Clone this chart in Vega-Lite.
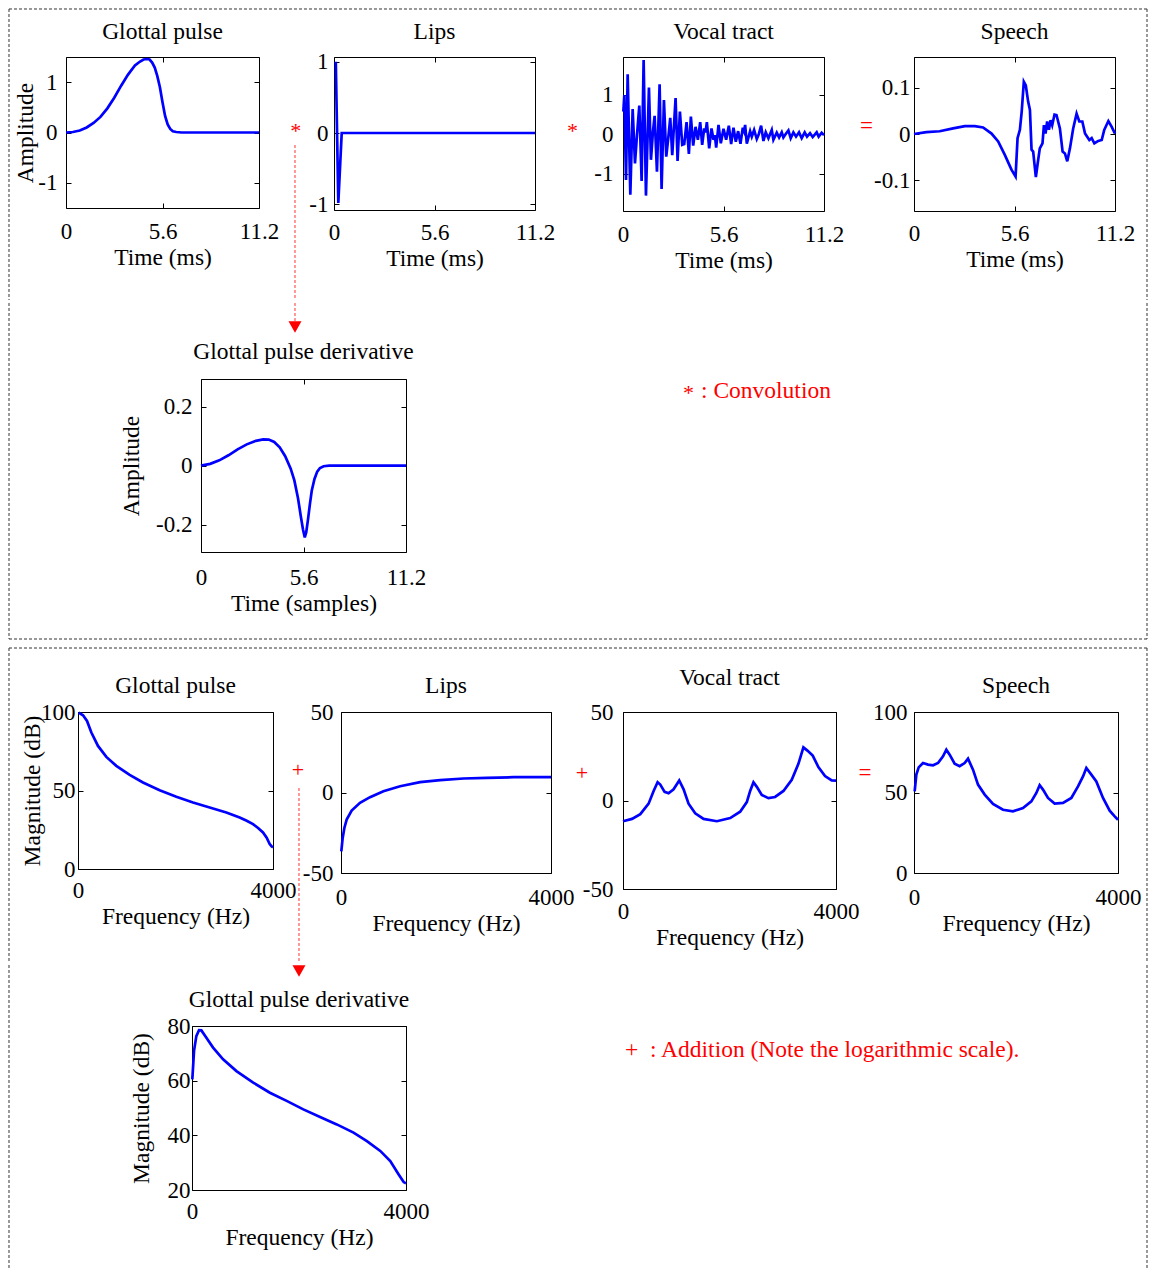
{
"$schema": "https://vega.github.io/schema/vega-lite/v6.json",
"background": "white",
"padding": {"left": 7, "top": 7, "right": 0, "bottom": 0},
"config": {
  "view": {"stroke": "black", "strokeWidth": 1},
  "axis": {"labelFont": "Liberation Serif", "labelFontSize": 23, "labelColor": "black", "titleFont": "Liberation Serif", "titleFontSize": 23.5, "titleFontWeight": "normal", "titleColor": "black", "domain": false, "grid": false, "ticks": true, "tickColor": "black", "tickSize": -5, "tickWidth": 1, "labelFlush": false, "labelOverlap": false, "titlePadding": 2},
  "line": {"color": "#0000ff", "strokeWidth": 2.7},
  "concat": {"spacing": 0}
},
"datasets": {
  "gp_t": [{"x":0,"y":0},{"x":0.4,"y":0.01},{"x":0.8,"y":0.04},{"x":1.2,"y":0.1},{"x":1.6,"y":0.19},{"x":2.0,"y":0.31},{"x":2.4,"y":0.48},{"x":2.8,"y":0.69},{"x":3.2,"y":0.93},{"x":3.6,"y":1.15},{"x":4.0,"y":1.33},{"x":4.3,"y":1.41},{"x":4.5,"y":1.45},{"x":4.7,"y":1.46},{"x":4.85,"y":1.45},{"x":5.0,"y":1.39},{"x":5.15,"y":1.29},{"x":5.3,"y":1.12},{"x":5.45,"y":0.9},{"x":5.6,"y":0.6},{"x":5.75,"y":0.33},{"x":5.9,"y":0.16},{"x":6.05,"y":0.07},{"x":6.2,"y":0.025},{"x":6.4,"y":0.01},{"x":6.7,"y":0},{"x":11.2,"y":0}],
  "lips_t": [{"x":0.1,"y":1},{"x":0.24,"y":-0.98},{"x":0.43,"y":0},{"x":11.2,"y":0}],
  "vt_t": [{"x":0.019,"y":0.58},{"x":0.074,"y":1.0},{"x":0.167,"y":-1.16},{"x":0.26,"y":1.53},{"x":0.408,"y":-1.54},{"x":0.538,"y":0.64},{"x":0.668,"y":-0.74},{"x":0.779,"y":-0.02},{"x":0.909,"y":0.73},{"x":1.038,"y":-1.19},{"x":1.15,"y":1.89},{"x":1.279,"y":-1.56},{"x":1.446,"y":1.19},{"x":1.558,"y":-0.65},{"x":1.669,"y":0.07},{"x":1.762,"y":0.47},{"x":1.892,"y":-0.95},{"x":2.04,"y":1.27},{"x":2.151,"y":-1.39},{"x":2.281,"y":0.87},{"x":2.41,"y":-0.57},{"x":2.522,"y":-0.1},{"x":2.633,"y":0.42},{"x":2.744,"y":-0.53},{"x":2.93,"y":0.92},{"x":3.041,"y":-0.68},{"x":3.171,"y":0.58},{"x":3.3,"y":-0.27},{"x":3.412,"y":-0.25},{"x":3.542,"y":0.31},{"x":3.671,"y":-0.5},{"x":3.782,"y":0.45},{"x":3.912,"y":-0.29},{"x":4.042,"y":0.19},{"x":4.172,"y":-0.14},{"x":4.302,"y":0.31},{"x":4.413,"y":-0.27},{"x":4.524,"y":0.15},{"x":4.599,"y":0.05},{"x":4.673,"y":0.31},{"x":4.803,"y":-0.36},{"x":4.932,"y":0.15},{"x":5.044,"y":-0.14},{"x":5.118,"y":-0.02},{"x":5.192,"y":-0.34},{"x":5.322,"y":0.24},{"x":5.451,"y":-0.23},{"x":5.6,"y":0.14},{"x":5.748,"y":-0.14},{"x":5.897,"y":0.22},{"x":6.026,"y":-0.25},{"x":6.156,"y":0.17},{"x":6.286,"y":-0.19},{"x":6.416,"y":0.08},{"x":6.546,"y":-0.24},{"x":6.675,"y":0.17},{"x":6.749,"y":0.08},{"x":6.805,"y":0.24},{"x":6.898,"y":-0.24},{"x":7.083,"y":0.08},{"x":7.176,"y":-0.06},{"x":7.306,"y":0.11},{"x":7.454,"y":-0.12},{"x":7.565,"y":0.0},{"x":7.695,"y":0.22},{"x":7.825,"y":-0.17},{"x":7.955,"y":0.05},{"x":8.103,"y":-0.1},{"x":8.289,"y":0.11},{"x":8.381,"y":-0.14},{"x":8.567,"y":0.04},{"x":8.697,"y":-0.08},{"x":8.845,"y":0.05},{"x":8.937,"y":-0.08},{"x":9.086,"y":0.02},{"x":9.216,"y":0.1},{"x":9.345,"y":-0.1},{"x":9.494,"y":0.05},{"x":9.642,"y":-0.06},{"x":9.809,"y":0.05},{"x":9.957,"y":-0.1},{"x":10.124,"y":0.05},{"x":10.254,"y":-0.06},{"x":10.421,"y":0.03},{"x":10.569,"y":-0.07},{"x":10.792,"y":0.05},{"x":10.903,"y":-0.06},{"x":11.07,"y":0.04},{"x":11.2,"y":-0.02}],
  "sp_t": [{"x":0,"y":0},{"x":0.69,"y":0.004},{"x":1.43,"y":0.006},{"x":2.18,"y":0.012},{"x":2.83,"y":0.017},{"x":3.39,"y":0.017},{"x":3.85,"y":0.014},{"x":4.32,"y":0.001},{"x":4.69,"y":-0.016},{"x":5.06,"y":-0.045},{"x":5.43,"y":-0.077},{"x":5.66,"y":-0.092},{"x":5.77,"y":-0.009},{"x":5.9,"y":0.009},{"x":6.0,"y":0.048},{"x":6.12,"y":0.113},{"x":6.23,"y":0.105},{"x":6.36,"y":0.07},{"x":6.46,"y":0.052},{"x":6.55,"y":-0.034},{"x":6.64,"y":-0.038},{"x":6.79,"y":-0.093},{"x":6.88,"y":-0.067},{"x":7.01,"y":-0.031},{"x":7.16,"y":-0.02},{"x":7.24,"y":0.019},{"x":7.33,"y":0.001},{"x":7.42,"y":0.027},{"x":7.52,"y":0.009},{"x":7.61,"y":0.03},{"x":7.7,"y":0.019},{"x":7.83,"y":0.042},{"x":7.94,"y":0.041},{"x":8.13,"y":0.012},{"x":8.28,"y":-0.038},{"x":8.41,"y":-0.042},{"x":8.54,"y":-0.059},{"x":8.69,"y":-0.031},{"x":8.87,"y":0.012},{"x":9.06,"y":0.044},{"x":9.21,"y":0.027},{"x":9.38,"y":0.027},{"x":9.53,"y":0.001},{"x":9.77,"y":-0.013},{"x":9.9,"y":-0.009},{"x":10.05,"y":-0.02},{"x":10.27,"y":-0.015},{"x":10.46,"y":-0.013},{"x":10.6,"y":0.009},{"x":10.83,"y":0.028},{"x":11.01,"y":0.016},{"x":11.2,"y":0.001}],
  "gpd_t": [{"x":0,"y":0},{"x":0.5,"y":0.006},{"x":1.0,"y":0.018},{"x":1.5,"y":0.035},{"x":2.0,"y":0.055},{"x":2.5,"y":0.072},{"x":3.0,"y":0.084},{"x":3.4,"y":0.089},{"x":3.7,"y":0.088},{"x":4.0,"y":0.08},{"x":4.3,"y":0.062},{"x":4.6,"y":0.032},{"x":4.9,"y":-0.01},{"x":5.1,"y":-0.05},{"x":5.3,"y":-0.11},{"x":5.45,"y":-0.17},{"x":5.57,"y":-0.215},{"x":5.67,"y":-0.243},{"x":5.75,"y":-0.225},{"x":5.85,"y":-0.18},{"x":5.95,"y":-0.13},{"x":6.05,"y":-0.085},{"x":6.2,"y":-0.045},{"x":6.35,"y":-0.02},{"x":6.5,"y":-0.008},{"x":6.7,"y":-0.002},{"x":7.0,"y":0},{"x":11.2,"y":0}],
  "gp_f": [{"x":14,"y":99.6},{"x":103,"y":97.9},{"x":185,"y":94.3},{"x":274,"y":86.9},{"x":410,"y":78.4},{"x":581,"y":71.4},{"x":786,"y":65.7},{"x":1060,"y":60.0},{"x":1333,"y":55.1},{"x":1675,"y":50.2},{"x":2017,"y":46.0},{"x":2359,"y":42.4},{"x":2701,"y":39.2},{"x":3043,"y":36.0},{"x":3316,"y":32.8},{"x":3450,"y":30.9},{"x":3590,"y":28.6},{"x":3700,"y":26.0},{"x":3795,"y":23.3},{"x":3870,"y":20.0},{"x":3932,"y":15.9},{"x":3970,"y":14.5},{"x":4000,"y":13.8}],
  "lips_f": [{"x":6,"y":-36.5},{"x":32,"y":-28.2},{"x":64,"y":-22.0},{"x":108,"y":-16.8},{"x":203,"y":-11.2},{"x":362,"y":-6.4},{"x":553,"y":-2.9},{"x":808,"y":0.8},{"x":1126,"y":3.9},{"x":1507,"y":6.4},{"x":1889,"y":7.7},{"x":2334,"y":8.7},{"x":2779,"y":9.1},{"x":3288,"y":9.5},{"x":4000,"y":9.5}],
  "vt_f": [{"x":0,"y":-11.7},{"x":169,"y":-10.4},{"x":325,"y":-7.7},{"x":481,"y":-1.8},{"x":575,"y":5.4},{"x":650,"y":10.3},{"x":700,"y":9.0},{"x":781,"y":4.9},{"x":856,"y":4.1},{"x":950,"y":6.3},{"x":1056,"y":11.3},{"x":1138,"y":6.3},{"x":1231,"y":-1.8},{"x":1356,"y":-7.2},{"x":1513,"y":-10.4},{"x":1763,"y":-11.7},{"x":2013,"y":-9.9},{"x":2200,"y":-6.3},{"x":2325,"y":-0.9},{"x":2388,"y":5.4},{"x":2450,"y":10.3},{"x":2513,"y":7.7},{"x":2606,"y":3.1},{"x":2731,"y":1.3},{"x":2856,"y":2.0},{"x":3013,"y":5.4},{"x":3169,"y":11.7},{"x":3294,"y":20.7},{"x":3388,"y":30.0},{"x":3463,"y":28.2},{"x":3563,"y":25.4},{"x":3669,"y":18.9},{"x":3794,"y":13.8},{"x":3919,"y":11.3},{"x":4000,"y":11.2}],
  "sp_f": [{"x":13,"y":50.7},{"x":46,"y":61.1},{"x":92,"y":65.6},{"x":176,"y":68.3},{"x":275,"y":67.3},{"x":373,"y":66.9},{"x":471,"y":68.3},{"x":569,"y":72.5},{"x":634,"y":76.6},{"x":699,"y":73.5},{"x":797,"y":67.9},{"x":895,"y":66.3},{"x":993,"y":68.3},{"x":1059,"y":71.0},{"x":1157,"y":64.2},{"x":1255,"y":54.9},{"x":1386,"y":48.7},{"x":1549,"y":42.9},{"x":1745,"y":39.3},{"x":1941,"y":38.3},{"x":2137,"y":40.4},{"x":2301,"y":44.5},{"x":2399,"y":49.7},{"x":2464,"y":54.5},{"x":2529,"y":51.8},{"x":2627,"y":46.6},{"x":2758,"y":43.1},{"x":2922,"y":43.5},{"x":3085,"y":46.6},{"x":3216,"y":53.8},{"x":3314,"y":60.0},{"x":3379,"y":65.2},{"x":3477,"y":61.1},{"x":3575,"y":56.9},{"x":3706,"y":46.6},{"x":3837,"y":38.7},{"x":3935,"y":35.2},{"x":4000,"y":33.1}],
  "gpd_f": [{"x":6,"y":60.5},{"x":38,"y":70.9},{"x":81,"y":76.3},{"x":131,"y":78.5},{"x":175,"y":78.4},{"x":269,"y":75.7},{"x":394,"y":72.1},{"x":581,"y":67.8},{"x":831,"y":63.5},{"x":1144,"y":59.3},{"x":1456,"y":55.6},{"x":1769,"y":52.6},{"x":2081,"y":49.5},{"x":2394,"y":46.7},{"x":2706,"y":44.0},{"x":3019,"y":41.0},{"x":3269,"y":37.9},{"x":3519,"y":34.3},{"x":3706,"y":30.6},{"x":3863,"y":25.7},{"x":3956,"y":22.9},{"x":4000,"y":22.4}]
},
"spacing": 6,
"vconcat": [
 {"spacing": 0, "vconcat": [
  {"hconcat": [
   {"width": 57, "height": 10, "view": {"stroke": null}, "data": {"values": []}, "mark": "point"},
   {"width": 193, "height": 151, "resolve": {"axis": {"x": "independent", "y": "independent"}}, "layer": [
     {"data": {"name": "gp_t"}, "mark": {"type": "line"},
      "encoding": {
       "x": {"field": "x", "type": "quantitative", "scale": {"domain": [0, 11.2], "nice": false, "zero": false}, "axis": {"values": [0, 5.6, 11.2], "labelExpr": "'' + datum.value", "title": "Time (ms)", "labelPadding": 17}},
       "y": {"field": "y", "type": "quantitative", "scale": {"domain": [-1.5, 1.5], "nice": false, "zero": false}, "axis": {"values": [-1, 0, 1], "labelExpr": "'' + datum.value", "title": "Amplitude", "titlePadding": 0, "labelPadding": 14}}}},
     {"data": {"values": [{}]}, "mark": {"type": "text", "font": "Liberation Serif", "fontSize": 23.5, "color": "black", "baseline": "alphabetic", "align": "center"}, "encoding": {"x": {"datum": 5.6, "axis": {"orient": "top", "values": [0, 5.6, 11.2], "labels": false, "title": null}}, "y": {"datum": 1.8576, "axis": {"orient": "right", "values": [-1, 0, 1], "labels": false, "title": null}}, "text": {"value": "Glottal pulse"}}},
     {"data": {"values": [{}]}, "mark": {"type": "rule", "color": "#333333", "strokeWidth": 1, "strokeDash": [3, 2]}, "encoding": {"y": {"datum": 2.4537, "axis": null}, "x": {"datum": -3.3078, "axis": null}, "x2": {"datum": 62.732}}},
     {"data": {"values": [{}]}, "mark": {"type": "rule", "color": "#333333", "strokeWidth": 1, "strokeDash": [3, 2]}, "encoding": {"x": {"datum": -3.3078, "axis": null}, "y": {"datum": 2.4537, "axis": null}, "y2": {"datum": -3.3278}}},
     {"data": {"values": [{}]}, "mark": {"type": "rule", "color": "#333333", "strokeWidth": 1, "strokeDash": [3, 2]}, "encoding": {"x": {"datum": 62.732, "axis": null}, "y": {"datum": 2.4537, "axis": null}, "y2": {"datum": -3.3278}}},
     {"data": {"values": [{}]}, "mark": {"type": "rule", "color": "#ff3333", "strokeWidth": 1, "strokeDash": [3, 2]}, "encoding": {"x": {"datum": 13.289, "axis": null}, "y": {"datum": -0.2483, "axis": null}, "y2": {"datum": -3.3278}}}
   ]},
   {"width": 75, "height": 151, "view": {"stroke": null}, "data": {"values": [{"op": "*"}]}, "mark": {"type": "text", "font": "Liberation Serif", "fontSize": 22, "color": "#ff0000", "baseline": "alphabetic", "dx": -0.7, "dy": 5.8}, "encoding": {"text": {"field": "op"}}},
   {"width": 201, "height": 153, "resolve": {"axis": {"x": "independent", "y": "independent"}}, "layer": [
     {"data": {"name": "lips_t"}, "mark": {"type": "line"},
      "encoding": {
       "x": {"field": "x", "type": "quantitative", "scale": {"domain": [0, 11.2], "nice": false, "zero": false}, "axis": {"values": [0, 5.6, 11.2], "labelExpr": "'' + datum.value", "title": "Time (ms)", "labelPadding": 16}},
       "y": {"field": "y", "type": "quantitative", "scale": {"domain": [-1.08, 1.066], "nice": false, "zero": false}, "axis": {"values": [-1, 0, 1], "labelExpr": "'' + datum.value", "title": null, "labelPadding": 11}}}},
     {"data": {"values": [{}]}, "mark": {"type": "text", "font": "Liberation Serif", "fontSize": 23.5, "color": "black", "baseline": "alphabetic", "align": "center"}, "encoding": {"x": {"datum": 5.6, "axis": {"orient": "top", "values": [0, 5.6, 11.2], "labels": false, "title": null}}, "y": {"datum": 1.3185, "axis": {"orient": "right", "values": [-1, 0, 1], "labels": false, "title": null}}, "text": {"value": "Lips"}}}
   ]},
   {"width": 88, "height": 151, "view": {"stroke": null}, "data": {"values": [{"op": "*"}]}, "mark": {"type": "text", "font": "Liberation Serif", "fontSize": 22, "color": "#ff0000", "baseline": "alphabetic", "dx": -6.5, "dy": 5.8}, "encoding": {"text": {"field": "op"}}},
   {"width": 201, "height": 154, "resolve": {"axis": {"x": "independent", "y": "independent"}}, "layer": [
     {"data": {"name": "vt_t"}, "mark": {"type": "line"},
      "encoding": {
       "x": {"field": "x", "type": "quantitative", "scale": {"domain": [0, 11.2], "nice": false, "zero": false}, "axis": {"values": [0, 5.6, 11.2], "labelExpr": "'' + datum.value", "title": "Time (ms)", "labelPadding": 17}},
       "y": {"field": "y", "type": "quantitative", "scale": {"domain": [-1.952, 1.967], "nice": false, "zero": false}, "axis": {"values": [-1, 0, 1], "labelExpr": "'' + datum.value", "title": null, "labelPadding": 15}}}},
     {"data": {"values": [{}]}, "mark": {"type": "text", "font": "Liberation Serif", "fontSize": 23.5, "color": "black", "baseline": "alphabetic", "align": "center"}, "encoding": {"x": {"datum": 5.6, "axis": {"orient": "top", "values": [0, 5.6, 11.2], "labels": false, "title": null}}, "y": {"datum": 2.425, "axis": {"orient": "right", "values": [-1, 0, 1], "labels": false, "title": null}}, "text": {"value": "Vocal tract"}}}
   ]},
   {"width": 90, "height": 151, "view": {"stroke": null}, "data": {"values": [{"op": "="}]}, "mark": {"type": "text", "font": "Liberation Serif", "fontSize": 23, "color": "#ff0000", "baseline": "alphabetic", "dx": -2.5, "dy": 0.2}, "encoding": {"text": {"field": "op"}}},
   {"width": 201, "height": 154, "resolve": {"axis": {"x": "independent", "y": "independent"}}, "layer": [
     {"data": {"name": "sp_t"}, "mark": {"type": "line"},
      "encoding": {
       "x": {"field": "x", "type": "quantitative", "scale": {"domain": [0, 11.2], "nice": false, "zero": false}, "axis": {"values": [0, 5.6, 11.2], "labelExpr": "'' + datum.value", "title": "Time (ms)", "labelPadding": 16}},
       "y": {"field": "y", "type": "quantitative", "scale": {"domain": [-0.1663, 0.1663], "nice": false, "zero": false}, "axis": {"values": [-0.1, 0, 0.1], "labelExpr": "'' + datum.value", "title": null, "labelPadding": 9}}}},
     {"data": {"values": [{}]}, "mark": {"type": "text", "font": "Liberation Serif", "fontSize": 23.5, "color": "black", "baseline": "alphabetic", "align": "center"}, "encoding": {"x": {"datum": 5.6, "axis": {"orient": "top", "values": [0, 5.6, 11.2], "labels": false, "title": null}}, "y": {"datum": 0.2052, "axis": {"orient": "right", "values": [-0.1, 0, 0.1], "labels": false, "title": null}}, "text": {"value": "Speech"}}}
   ]}
  ], "spacing": 0, "bounds": "flush"},
  {"hconcat": [
   {"width": 192, "height": 10, "view": {"stroke": null}, "data": {"values": []}, "mark": "point"},
   {"width": 205, "height": 173, "resolve": {"axis": {"x": "independent", "y": "independent"}}, "layer": [
     {"data": {"name": "gpd_t"}, "mark": {"type": "line"},
      "encoding": {
       "x": {"field": "x", "type": "quantitative", "scale": {"domain": [0, 11.2], "nice": false, "zero": false}, "axis": {"values": [0, 5.6, 11.2], "labelExpr": "'' + datum.value", "title": "Time (samples)", "labelPadding": 19}},
       "y": {"field": "y", "type": "quantitative", "scale": {"domain": [-0.292, 0.293], "nice": false, "zero": false}, "axis": {"values": [-0.2, 0, 0.2], "labelExpr": "'' + datum.value", "title": "Amplitude", "titlePadding": 12, "labelPadding": 14}}}},
     {"data": {"values": [{}]}, "mark": {"type": "text", "font": "Liberation Serif", "fontSize": 23.5, "color": "black", "baseline": "alphabetic", "align": "center"}, "encoding": {"x": {"datum": 5.6, "axis": {"orient": "top", "values": [0, 5.6, 11.2], "labels": false, "title": null}}, "y": {"datum": 0.3606, "axis": {"orient": "right", "values": [-0.2, 0, 0.2], "labels": false, "title": null}}, "text": {"value": "Glottal pulse derivative"}}},
     {"data": {"values": [{}]}, "mark": {"type": "rule", "color": "#333333", "strokeWidth": 1, "strokeDash": [3, 2]}, "encoding": {"x": {"datum": -10.4897, "axis": null}, "y": {"datum": 0.55, "axis": null}, "y2": {"datum": -0.5862}}},
     {"data": {"values": [{}]}, "mark": {"type": "rule", "color": "#333333", "strokeWidth": 1, "strokeDash": [3, 2]}, "encoding": {"x": {"datum": 51.684, "axis": null}, "y": {"datum": 0.55, "axis": null}, "y2": {"datum": -0.5862}}},
     {"data": {"values": [{}]}, "mark": {"type": "rule", "color": "#333333", "strokeWidth": 1, "strokeDash": [3, 2]}, "encoding": {"y": {"datum": -0.5862, "axis": null}, "x": {"datum": -10.4897, "axis": null}, "x2": {"datum": 51.684}}},
     {"data": {"values": [{}]}, "mark": {"type": "rule", "color": "#ff3333", "strokeWidth": 1, "strokeDash": [3, 2]}, "encoding": {"x": {"datum": 5.1356, "axis": null}, "y": {"datum": 0.55, "axis": null}, "y2": {"datum": 0.4891}}},
     {"data": {"values": [{}]}, "mark": {"type": "point", "shape": "triangle-down", "filled": true, "color": "#ff0000", "size": 170, "opacity": 1}, "encoding": {"x": {"datum": 5.1356, "axis": null}, "y": {"datum": 0.4688, "axis": null}}},
     {"data": {"values": [{}]}, "mark": {"type": "text", "font": "Liberation Serif", "fontSize": 22, "color": "#ff0000", "baseline": "alphabetic", "align": "left"}, "encoding": {"x": {"datum": 26.334, "axis": null}, "y": {"datum": 0.222, "axis": null}, "text": {"value": "*"}}},
     {"data": {"values": [{}]}, "mark": {"type": "text", "font": "Liberation Serif", "fontSize": 23.5, "color": "#ff0000", "baseline": "alphabetic", "align": "left"}, "encoding": {"x": {"datum": 27.317, "axis": null}, "y": {"datum": 0.2271, "axis": null}, "text": {"value": ": Convolution"}}}
   ]}
  ], "spacing": 0, "bounds": "flush"}
 ]},
 {"spacing": 0, "vconcat": [
  {"hconcat": [
   {"width": 69, "height": 10, "view": {"stroke": null}, "data": {"values": []}, "mark": "point"},
   {"width": 195, "height": 157, "resolve": {"axis": {"x": "independent", "y": "independent"}}, "layer": [
     {"data": {"name": "gp_f"}, "mark": {"type": "line"},
      "encoding": {
       "x": {"field": "x", "type": "quantitative", "scale": {"domain": [0, 4000], "nice": false, "zero": false}, "axis": {"values": [0, 4000], "labelExpr": "'' + datum.value", "title": "Frequency (Hz)", "labelPadding": 15}},
       "y": {"field": "y", "type": "quantitative", "scale": {"domain": [0, 100], "nice": false, "zero": false}, "axis": {"values": [0, 50, 100], "labelExpr": "'' + datum.value", "title": "Magnitude (dB)", "titlePadding": -4, "labelPadding": 8}}}},
     {"data": {"values": [{}]}, "mark": {"type": "text", "font": "Liberation Serif", "fontSize": 23.5, "color": "black", "baseline": "alphabetic", "align": "center"}, "encoding": {"x": {"datum": 2000, "axis": {"orient": "top", "values": [0, 4000], "labels": false, "title": null}}, "y": {"datum": 112.42, "axis": {"orient": "right", "values": [0, 50, 100], "labels": false, "title": null}}, "text": {"value": "Glottal pulse"}}},
     {"data": {"values": [{}]}, "mark": {"type": "rule", "color": "#333333", "strokeWidth": 1, "strokeDash": [3, 2]}, "encoding": {"y": {"datum": 140.76, "axis": null}, "x": {"datum": -1415.4, "axis": null}, "x2": {"datum": 21928}}},
     {"data": {"values": [{}]}, "mark": {"type": "rule", "color": "#333333", "strokeWidth": 1, "strokeDash": [3, 2]}, "encoding": {"x": {"datum": -1415.4, "axis": null}, "y": {"datum": 140.76, "axis": null}, "y2": {"datum": -58.6}}},
     {"data": {"values": [{}]}, "mark": {"type": "rule", "color": "#333333", "strokeWidth": 1, "strokeDash": [3, 2]}, "encoding": {"x": {"datum": 21928, "axis": null}, "y": {"datum": 140.76, "axis": null}, "y2": {"datum": -58.6}}},
     {"data": {"values": [{}]}, "mark": {"type": "rule", "color": "#ff3333", "strokeWidth": 1, "strokeDash": [3, 2]}, "encoding": {"x": {"datum": 4533.3, "axis": null}, "y": {"datum": 51.59, "axis": null}, "y2": {"datum": -58.6}}}
   ]},
   {"width": 68, "height": 157, "view": {"stroke": null}, "data": {"values": [{"op": "+"}]}, "mark": {"type": "text", "font": "Liberation Serif", "fontSize": 22, "color": "#ff0000", "baseline": "alphabetic", "dx": -9, "dy": -14}, "encoding": {"text": {"field": "op"}}},
   {"width": 210, "height": 161, "resolve": {"axis": {"x": "independent", "y": "independent"}}, "layer": [
     {"data": {"name": "lips_f"}, "mark": {"type": "line"},
      "encoding": {
       "x": {"field": "x", "type": "quantitative", "scale": {"domain": [0, 4000], "nice": false, "zero": false}, "axis": {"values": [0, 4000], "labelExpr": "'' + datum.value", "title": "Frequency (Hz)", "labelPadding": 18}},
       "y": {"field": "y", "type": "quantitative", "scale": {"domain": [-50, 50], "nice": false, "zero": false}, "axis": {"values": [-50, 0, 50], "labelExpr": "'' + datum.value", "title": null, "labelPadding": 13}}}},
     {"data": {"values": [{}]}, "mark": {"type": "text", "font": "Liberation Serif", "fontSize": 23.5, "color": "black", "baseline": "alphabetic", "align": "center"}, "encoding": {"x": {"datum": 2000, "axis": {"orient": "top", "values": [0, 4000], "labels": false, "title": null}}, "y": {"datum": 62.11, "axis": {"orient": "right", "values": [-50, 0, 50], "labels": false, "title": null}}, "text": {"value": "Lips"}}}
   ]},
   {"width": 72, "height": 157, "view": {"stroke": null}, "data": {"values": [{"op": "+"}]}, "mark": {"type": "text", "font": "Liberation Serif", "fontSize": 22, "color": "#ff0000", "baseline": "alphabetic", "dx": -5, "dy": -11}, "encoding": {"text": {"field": "op"}}},
   {"width": 213, "height": 177, "resolve": {"axis": {"x": "independent", "y": "independent"}}, "layer": [
     {"data": {"name": "vt_f"}, "mark": {"type": "line"},
      "encoding": {
       "x": {"field": "x", "type": "quantitative", "scale": {"domain": [0, 4000], "nice": false, "zero": false}, "axis": {"values": [0, 4000], "labelExpr": "'' + datum.value", "title": "Frequency (Hz)", "labelPadding": 16}},
       "y": {"field": "y", "type": "quantitative", "scale": {"domain": [-50, 50], "nice": false, "zero": false}, "axis": {"values": [-50, 0, 50], "labelExpr": "'' + datum.value", "title": null, "labelPadding": 15}}}},
     {"data": {"values": [{}]}, "mark": {"type": "text", "font": "Liberation Serif", "fontSize": 23.5, "color": "black", "baseline": "alphabetic", "align": "center"}, "encoding": {"x": {"datum": 2000, "axis": {"orient": "top", "values": [0, 4000], "labels": false, "title": null}}, "y": {"datum": 65.25, "axis": {"orient": "right", "values": [-50, 0, 50], "labels": false, "title": null}}, "text": {"value": "Vocal tract"}}}
   ]},
   {"width": 78, "height": 157, "view": {"stroke": null}, "data": {"values": [{"op": "="}]}, "mark": {"type": "text", "font": "Liberation Serif", "fontSize": 23, "color": "#ff0000", "baseline": "alphabetic", "dx": -10, "dy": -10.8}, "encoding": {"text": {"field": "op"}}},
   {"width": 204, "height": 161, "resolve": {"axis": {"x": "independent", "y": "independent"}}, "layer": [
     {"data": {"name": "sp_f"}, "mark": {"type": "line"},
      "encoding": {
       "x": {"field": "x", "type": "quantitative", "scale": {"domain": [0, 4000], "nice": false, "zero": false}, "axis": {"values": [0, 4000], "labelExpr": "'' + datum.value", "title": "Frequency (Hz)", "labelPadding": 18}},
       "y": {"field": "y", "type": "quantitative", "scale": {"domain": [0, 100], "nice": false, "zero": false}, "axis": {"values": [0, 50, 100], "labelExpr": "'' + datum.value", "title": null, "labelPadding": 12}}}},
     {"data": {"values": [{}]}, "mark": {"type": "text", "font": "Liberation Serif", "fontSize": 23.5, "color": "black", "baseline": "alphabetic", "align": "center"}, "encoding": {"x": {"datum": 2000, "axis": {"orient": "top", "values": [0, 4000], "labels": false, "title": null}}, "y": {"datum": 112.11, "axis": {"orient": "right", "values": [0, 50, 100], "labels": false, "title": null}}, "text": {"value": "Speech"}}}
   ]}
  ], "spacing": 0, "bounds": "flush"},
  {"hconcat": [
   {"width": 183, "height": 10, "view": {"stroke": null}, "data": {"values": []}, "mark": "point"},
   {"width": 214, "height": 164, "resolve": {"axis": {"x": "independent", "y": "independent"}}, "layer": [
     {"data": {"name": "gpd_f"}, "mark": {"type": "line"},
      "encoding": {
       "x": {"field": "x", "type": "quantitative", "scale": {"domain": [0, 4000], "nice": false, "zero": false}, "axis": {"values": [0, 4000], "labelExpr": "'' + datum.value", "title": "Frequency (Hz)", "labelPadding": 15}},
       "y": {"field": "y", "type": "quantitative", "scale": {"domain": [20, 80], "nice": false, "zero": false}, "axis": {"values": [20, 40, 60, 80], "labelExpr": "'' + datum.value", "title": "Magnitude (dB)", "titlePadding": 14, "labelPadding": 7}}}},
     {"data": {"values": [{}]}, "mark": {"type": "text", "font": "Liberation Serif", "fontSize": 23.5, "color": "black", "baseline": "alphabetic", "align": "center"}, "encoding": {"x": {"datum": 2000, "axis": {"orient": "top", "values": [0, 4000], "labels": false, "title": null}}, "y": {"datum": 86.95, "axis": {"orient": "right", "values": [20, 40, 60, 80], "labels": false, "title": null}}, "text": {"value": "Glottal pulse derivative"}}},
     {"data": {"values": [{}]}, "mark": {"type": "rule", "color": "#333333", "strokeWidth": 1, "strokeDash": [3, 2]}, "encoding": {"x": {"datum": -3420.6, "axis": null}, "y": {"datum": 102.32, "axis": null}, "y2": {"datum": -9.27}}},
     {"data": {"values": [{}]}, "mark": {"type": "rule", "color": "#333333", "strokeWidth": 1, "strokeDash": [3, 2]}, "encoding": {"x": {"datum": 17850.5, "axis": null}, "y": {"datum": 102.32, "axis": null}, "y2": {"datum": -9.27}}},
     {"data": {"values": [{}]}, "mark": {"type": "point", "shape": "triangle-down", "filled": true, "color": "#ff0000", "size": 170, "opacity": 1}, "encoding": {"x": {"datum": 2000, "axis": null}, "y": {"datum": 100.12, "axis": null}}},
     {"data": {"values": [{}]}, "mark": {"type": "text", "font": "Liberation Serif", "fontSize": 23.5, "color": "#ff0000", "baseline": "alphabetic", "align": "left"}, "encoding": {"x": {"datum": 8093.5, "axis": null}, "y": {"datum": 68.66, "axis": null}, "text": {"value": "+"}}},
     {"data": {"values": [{}]}, "mark": {"type": "text", "font": "Liberation Serif", "fontSize": 23.5, "color": "#ff0000", "baseline": "alphabetic", "align": "left"}, "encoding": {"x": {"datum": 8560.7, "axis": null}, "y": {"datum": 68.66, "axis": null}, "text": {"value": ": Addition (Note the logarithmic scale)."}}}
  ]}
  ], "spacing": 0, "bounds": "flush"}
 ]}
]
}
